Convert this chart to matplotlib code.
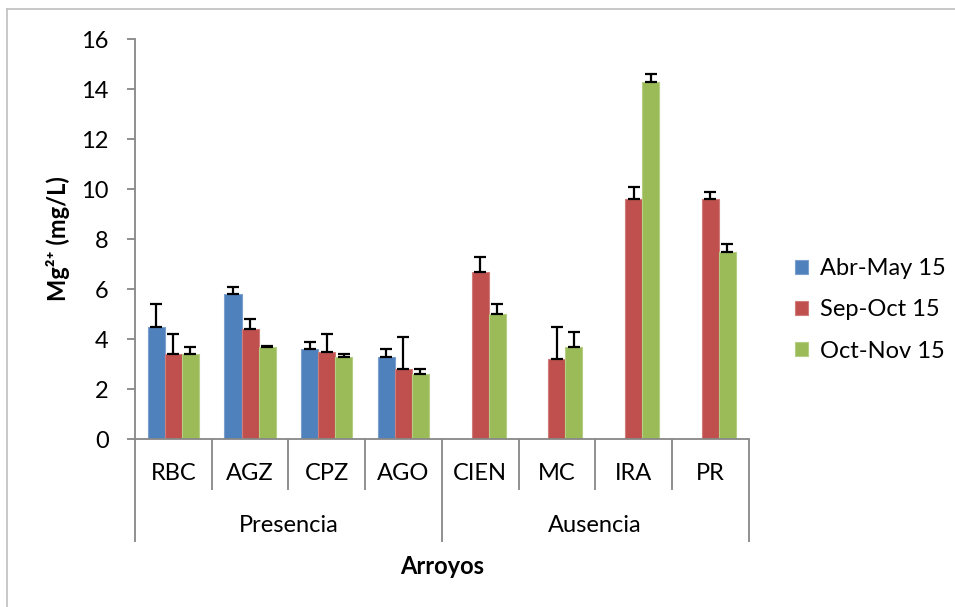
import matplotlib
matplotlib.use("Agg")
import matplotlib.pyplot as plt
import numpy as np
from matplotlib.lines import Line2D

plt.rcParams['font.family'] = ['Lato', 'DejaVu Sans']

categories = ["RBC", "AGZ", "CPZ", "AGO", "CIEN", "MC", "IRA", "PR"]
groups = ["Presencia", "Ausencia"]
group_sizes = [4, 4]
series_names = ["Abr-May 15", "Sep-Oct 15", "Oct-Nov 15"]
abr_may = [4.5, 5.8, 3.6, 3.3, np.nan, np.nan, np.nan, np.nan]
abr_may_err = [0.9, 0.3, 0.3, 0.3, np.nan, np.nan, np.nan, np.nan]
sep_oct = [3.4, 4.4, 3.5, 2.8, 6.7, 3.2, 9.6, 9.6]
sep_oct_err = [0.8, 0.4, 0.7, 1.3, 0.6, 1.3, 0.5, 0.3]
oct_nov = [3.4, 3.7, 3.3, 2.6, 5.0, 3.7, 14.3, 7.5]
oct_nov_err = [0.3, 0.02, 0.1, 0.2, 0.4, 0.6, 0.3, 0.3]
yticks = [0, 2, 4, 6, 8, 10, 12, 14, 16]

colors = ["#4F81BD", "#C0504D", "#9BBB59"]
edges = ["#7BA0CD", "#D07C7A", "#B5CE84"]
grey = "#878787"

fig = plt.figure(figsize=(9.55, 6.07), dpi=100)
ax = fig.add_axes([135/955, 1-439/607, (748.6-135)/955, 400/607])

x = np.arange(len(categories)) + 0.5
w = 1/4.5
vals = [abr_may, sep_oct, oct_nov]
errs = [abr_may_err, sep_oct_err, oct_nov_err]
handles = []
for i in range(3):
    pos = x + (i-1)*w
    v = np.array(vals[i], dtype=float)
    e = np.array(errs[i], dtype=float)
    m = ~np.isnan(v)
    b = ax.bar(pos[m], v[m], w, color=colors[i], edgecolor=edges[i], linewidth=0.8, zorder=2)
    ax.errorbar(pos[m], v[m], yerr=[np.zeros(m.sum()), e[m]], fmt='none',
                ecolor='black', elinewidth=1.6, capsize=4.3, capthick=1.6, zorder=3)
    handles.append(b)

ax.set_xlim(0, len(categories))
ax.set_ylim(0, 16)
ax.set_yticks(yticks)
ax.set_xticks([])
for s in ['top', 'right']:
    ax.spines[s].set_visible(False)
for s in ['left', 'bottom']:
    ax.spines[s].set_color(grey)
    ax.spines[s].set_linewidth(1.3)
ax.tick_params(axis='y', length=6, width=1.3, color=grey, pad=13, labelsize=17)

ax.set_ylabel("Mg²⁺ (mg/L)", fontsize=17, fontweight='bold', labelpad=8)

trans = ax.get_xaxis_transform()
edges_pos = np.cumsum([0] + group_sizes)
for k in range(len(categories)+1):
    outer = k in edges_pos
    ax.plot([k, k], [0, -0.2575 if outer else -0.1275], transform=trans,
            color=grey, lw=1.3, clip_on=False, solid_capstyle='butt')
for xi, c in zip(x, categories):
    ax.text(xi, -0.085, c, transform=trans, ha='center', va='center', fontsize=17)
start = 0
for g, n in zip(groups, group_sizes):
    ax.text(start + n/2, -0.2175, g, transform=trans, ha='center', va='center', fontsize=17)
    start += n
ax.text(len(categories)/2, -0.3175, "Arroyos", transform=trans, ha='center', va='center',
        fontsize=17, fontweight='bold')

fig.legend(handles, series_names, loc='center left', bbox_to_anchor=(783/955, 1-310/607),
           frameon=False, fontsize=17, handlelength=0.55, handleheight=0.55,
           handletextpad=0.5, labelspacing=0.85, borderpad=0)

fig.add_artist(Line2D([7/955, 1], [1-9/607, 1-9/607], color="#BFBFBF", lw=1.2))
fig.add_artist(Line2D([7/955, 7/955], [0, 1-9/607], color="#BFBFBF", lw=1.2))

fig.savefig("out.png", dpi=100)
